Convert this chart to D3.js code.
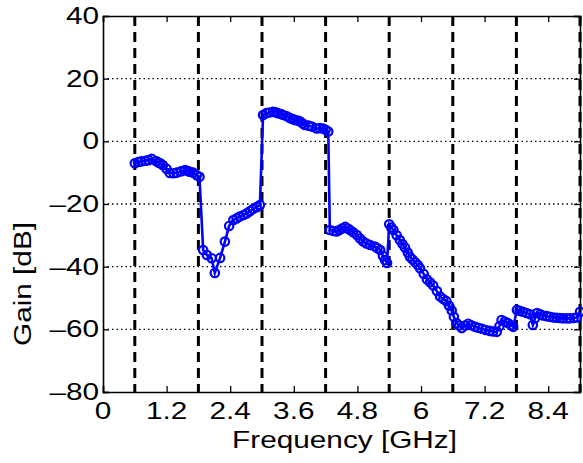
<!DOCTYPE html>
<html>
<head>
<meta charset="utf-8">
<script src="https://cdn.jsdelivr.net/npm/d3@7"></script>
<style>
  html, body { margin: 0; padding: 0; background: #fff; }
  svg { display: block; }
  text { font-family: "Liberation Sans", Arial, sans-serif; fill: #000; }
</style>
</head>
<body>
<svg id="chart" width="583" height="463"></svg>
<script>
// ---- data ----
const freqGHz = [
  0.60, 0.66, 0.72, 0.80, 0.86, 0.92, 1.00, 1.05, 1.08, 1.13, 1.20, 1.26, 1.33, 1.39, 1.47, 1.55, 1.60, 1.64, 1.70, 1.77, 1.82,
  1.89, 1.96, 2.05, 2.11, 2.21, 2.30, 2.38, 2.46, 2.52, 2.58, 2.65, 2.71, 2.77, 2.83, 2.90, 2.96,
  3.02, 3.08, 3.14, 3.21, 3.26, 3.30, 3.36, 3.40, 3.47, 3.53, 3.58, 3.62, 3.68, 3.72, 3.77, 3.81, 3.88, 3.94, 4.03, 4.09, 4.15, 4.20, 4.25,
  4.28, 4.35, 4.41, 4.46, 4.51, 4.57, 4.62, 4.66, 4.72, 4.79, 4.85, 4.91, 4.97, 5.04, 5.13, 5.18, 5.23, 5.28, 5.32, 5.36,
  5.40, 5.44, 5.48, 5.54, 5.60, 5.65, 5.70, 5.75, 5.79, 5.84, 5.89, 5.94, 5.98, 6.05, 6.11, 6.17, 6.23, 6.30, 6.36, 6.42, 6.48, 6.53, 6.58, 6.62, 6.67,
  6.72, 6.77, 6.83, 6.89, 6.95, 7.02, 7.08, 7.15, 7.22, 7.30, 7.36, 7.43, 7.48, 7.52, 7.58, 7.64, 7.70, 7.74,
  7.81, 7.86, 7.92, 7.99, 8.06, 8.11, 8.15, 8.19, 8.25, 8.30, 8.37, 8.43, 8.50, 8.56, 8.62, 8.68, 8.75, 8.81, 8.88, 8.94, 9.00
];
const gainDB = [
  -7.0, -6.6, -6.4, -6.2, -6.0, -5.6, -6.3, -6.8, -7.0, -7.6, -8.8, -10.1, -10.2, -10.0, -9.6, -9.2, -9.5, -9.7, -10.0, -10.8, -11.3,
  -34.7, -36.3, -37.3, -42.0, -37.2, -32.0, -27.0, -25.1, -24.6, -24.0, -23.5, -23.0, -22.3, -21.6, -21.0, -20.3,
  8.4, 9.0, 9.2, 9.4, 9.3, 9.0, 8.7, 8.4, 8.0, 7.4, 7.1, 6.8, 6.6, 6.3, 5.7, 5.2, 5.0, 4.7, 4.1, 4.2, 4.1, 3.7, 3.1,
  -28.3, -28.6, -28.8, -28.3, -27.8, -27.3, -27.8, -28.3, -29.0, -29.9, -31.0, -32.0, -32.6, -33.1, -33.6, -34.1, -34.7, -36.5, -37.9, -38.8,
  -26.5, -27.5, -28.3, -30.0, -31.5, -32.8, -34.0, -35.5, -36.8, -37.7, -38.6, -39.5, -40.5, -42.3, -44.0, -45.0, -46.0, -47.8, -49.5, -50.3, -51.0, -52.5, -54.0, -56.0, -58.0,
  -58.8, -59.6, -58.8, -58.2, -58.7, -59.2, -59.5, -59.8, -60.2, -60.5, -60.7, -60.8, -59.0, -57.0, -57.5, -58.0, -58.7, -59.2,
  -53.8, -54.1, -54.4, -54.8, -55.2, -58.6, -56.5, -54.8, -55.2, -55.6, -55.8, -56.0, -56.2, -56.3, -56.4, -56.5, -56.5, -56.5, -56.4, -56.2, -54.4
];
const xTicks = [0, 1.2, 2.4, 3.6, 4.8, 6, 7.2, 8.4];
const xTickLabels = ["0", "1.2", "2.4", "3.6", "4.8", "6", "7.2", "8.4"];
const yTicks = [-80, -60, -40, -20, 0, 20, 40];
const bandEdgesGHz = [0.6, 1.8, 3.0, 4.2, 5.4, 6.6, 7.8, 9.0];
const xLabel = "Frequency [GHz]";
const yLabel = "Gain [dB]";

// ---- layout ----
const plot = { left: 103, top: 16, right: 580, bottom: 392 };
const svg = d3.select("#chart");
const x = d3.scaleLinear().domain([0, 9]).range([plot.left, plot.right]);
const y = d3.scaleLinear().domain([-80, 40]).range([plot.bottom, plot.top]);
const fs = 24, stretch = 1.24;

// horizontal dotted grid
svg.append("g").selectAll("line")
  .data(yTicks.filter(t => t > -80 && t < 40))
  .join("line")
  .attr("x1", plot.left).attr("x2", plot.right)
  .attr("y1", d => y(d)).attr("y2", d => y(d))
  .attr("stroke", "#000").attr("stroke-width", 1.4)
  .attr("stroke-dasharray", "1.5,3");

// vertical dashed band edges
svg.append("g").selectAll("line")
  .data(bandEdgesGHz)
  .join("line")
  .attr("x1", d => x(d)).attr("x2", d => x(d))
  .attr("y1", plot.top).attr("y2", plot.bottom)
  .attr("stroke", "#000").attr("stroke-width", 3)
  .attr("stroke-dasharray", "10,6");

// axes (ticks inward)
const xAxisB = d3.axisBottom(x).tickValues(xTicks).tickSize(-6).tickFormat("");
const xAxisT = d3.axisTop(x).tickValues(xTicks).tickSize(-6).tickFormat("");
const yAxisL = d3.axisLeft(y).tickValues(yTicks).tickSize(-6).tickFormat("");
const yAxisR = d3.axisRight(y).tickValues(yTicks).tickSize(-6).tickFormat("");
function styleAxis(g) {
  g.select(".domain").attr("stroke", "#000").attr("stroke-width", 1.6);
  g.selectAll(".tick line").attr("stroke", "#000").attr("stroke-width", 1.3);
}
svg.append("g").attr("transform", `translate(0,${plot.bottom})`).call(xAxisB).call(styleAxis);
svg.append("g").attr("transform", `translate(0,${plot.top})`).call(xAxisT).call(styleAxis);
svg.append("g").attr("transform", `translate(${plot.left},0)`).call(yAxisL).call(styleAxis);
svg.append("g").attr("transform", `translate(${plot.right},0)`).call(yAxisR).call(styleAxis);

// tick labels
svg.append("g").selectAll("text")
  .data(xTicks)
  .join("text")
  .attr("transform", (d) => `translate(${x(d)},${plot.bottom + 27}) scale(${stretch},1)`)
  .attr("text-anchor", "middle")
  .attr("font-size", fs)
  .text((d, i) => xTickLabels[i]);

svg.append("g").selectAll("text")
  .data(yTicks)
  .join("text")
  .attr("transform", d => `translate(${plot.left - 4},${y(d) + 8}) scale(${stretch},1)`)
  .attr("text-anchor", "end")
  .attr("font-size", fs)
  .text(d => d < 0 ? "\u2013" + Math.abs(d) : String(d));

// axis titles
svg.append("text")
  .attr("transform", `translate(${(plot.left + plot.right) / 2 + 3},${plot.bottom + 56}) scale(${stretch},1)`)
  .attr("text-anchor", "middle")
  .attr("font-size", fs)
  .text(xLabel);
svg.append("text")
  .attr("transform", `translate(31,${(plot.top + plot.bottom) / 2 + 80}) rotate(-90) scale(${stretch},1)`)
  .attr("text-anchor", "middle")
  .attr("font-size", fs)
  .text(yLabel);

// data line + markers
const pts = freqGHz.map((f, i) => [f, gainDB[i]]);
const dg = svg.append("g");
dg.append("path")
  .datum(pts)
  .attr("fill", "none")
  .attr("stroke", "#0000ff")
  .attr("stroke-width", 2.6)
  .attr("d", d3.line().x(d => x(d[0])).y(d => y(d[1])));
dg.selectAll("circle")
  .data(pts)
  .join("circle")
  .attr("cx", d => x(d[0])).attr("cy", d => y(d[1]))
  .attr("r", 4.2)
  .attr("fill", "none")
  .attr("stroke", "#0000ff")
  .attr("stroke-width", 2.2);
</script>
</body>
</html>
